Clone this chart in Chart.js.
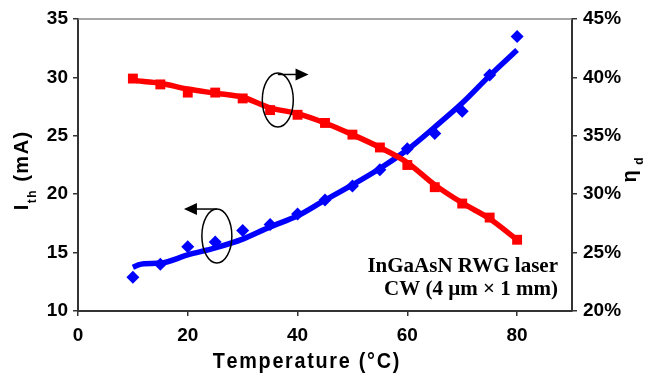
<!DOCTYPE html>
<html>
<head>
<meta charset="utf-8">
<script src="https://cdn.jsdelivr.net/npm/chart.js@4.4.0/dist/chart.umd.min.js"></script>
<style>
  html, body { margin: 0; padding: 0; background: #fff; }
  canvas { display: block; }
</style>
</head>
<body>
<canvas id="chart" width="646" height="376"></canvas>
<script>
// measured points
const temps = [10, 15, 20, 25, 30, 35, 40, 45, 50, 55, 60, 65, 70, 75, 80];
const ithMeasured = [12.9, 14.0, 15.5, 15.9, 16.9, 17.4, 18.3, 19.5, 20.7, 22.1, 23.9, 25.2, 27.1, 30.2, 33.5];
const etaMeasured = [39.9, 39.4, 38.7, 38.7, 38.2, 37.2, 36.8, 36.1, 35.1, 34.0, 32.5, 30.6, 29.2, 28.0, 26.1];

// fitted curves
const fitTemps = [10, 11, 12, 15, 20, 25, 30, 35, 40, 45, 50, 55, 60, 65, 70, 75, 80];
const ithFit = [13.75, 13.95, 14.05, 14.1, 14.8, 15.4, 16.15, 17.2, 18.15, 19.5, 20.8, 22.2, 23.8, 25.75, 27.8, 30.15, 32.35];
const etaFit = [39.8, 39.7, 39.65, 39.5, 39.0, 38.65, 38.3, 37.4, 36.9, 36.1, 35.1, 34.0, 32.7, 30.8, 29.25, 27.9, 26.1];

const xTicks = [0, 20, 40, 60, 80];

const BLUE = '#0000ff';
const RED = '#ff0000';
const AXIS = '#333333';
const SANS = '"Liberation Sans", Arial, sans-serif';
const SERIF = '"Liberation Serif", "Times New Roman", serif';

const pts = (xs, ys) => xs.map((x, i) => ({ x: x, y: ys[i] }));

function ellipseArrow(ctx, xs, ys, c, r, from, to) {
  const cx = xs.getPixelForValue(c.x), cy = ys.getPixelForValue(c.y);
  ctx.beginPath();
  ctx.ellipse(cx, cy, r[0], r[1], 0, 0, Math.PI * 2);
  ctx.stroke();
  const x1 = xs.getPixelForValue(from.x), y1 = ys.getPixelForValue(from.y);
  const x2 = xs.getPixelForValue(to.x), y2 = ys.getPixelForValue(to.y);
  const dir = Math.sign(x2 - x1);
  ctx.beginPath();
  ctx.moveTo(x1, y1);
  ctx.lineTo(x2 - dir * 10, y2);
  ctx.stroke();
  ctx.beginPath();
  ctx.moveTo(x2, y2);
  ctx.lineTo(x2 - dir * 13, y2 - 6);
  ctx.lineTo(x2 - dir * 13, y2 + 6);
  ctx.closePath();
  ctx.fill();
}

// draws text pieces char by char with extra spacing, centred on x
// parts: [text, font, yShift]
function spacedText(ctx, parts, x, y, gap) {
  let w = 0, n = 0;
  parts.forEach(p => {
    ctx.font = p[1];
    for (const ch of p[0]) { w += ctx.measureText(ch).width; n++; }
  });
  w += gap * (n - 1);
  let cx = x - w / 2;
  parts.forEach(p => {
    ctx.font = p[1];
    for (const ch of p[0]) {
      ctx.fillText(ch, cx, y + p[2]);
      cx += ctx.measureText(ch).width + gap;
    }
  });
}

const extras = {
  id: 'extras',
  afterDraw(chart) {
    const ctx = chart.ctx;
    const a = chart.chartArea;
    const xs = chart.scales.x, ys = chart.scales.y;
    ctx.save();

    // top frame line
    ctx.strokeStyle = '#8a8a8a';
    ctx.lineWidth = 1.5;
    ctx.beginPath();
    ctx.moveTo(a.left, a.top);
    ctx.lineTo(a.right, a.top);
    ctx.stroke();

    // ellipses and arrows
    ctx.strokeStyle = '#000';
    ctx.fillStyle = '#000';
    ctx.lineWidth = 1.5;
    ellipseArrow(ctx, xs, ys, { x: 36.4, y: 28.07 }, [15.5, 27], { x: 36.4, y: 30.25 }, { x: 42.0, y: 30.25 });
    ellipseArrow(ctx, xs, ys, { x: 25.3, y: 16.42 }, [15, 27], { x: 25.3, y: 18.73 }, { x: 19.3, y: 18.73 });

    // label text
    ctx.fillStyle = '#000';
    ctx.textAlign = 'right';
    ctx.textBaseline = 'alphabetic';
    ctx.font = 'bold 21px ' + SERIF;
    ctx.fillText('InGaAsN RWG laser', a.right - 14, a.bottom - 39);
    ctx.fillText('CW (4 \u00b5m \u00d7 1 mm)', a.right - 14, a.bottom - 16);

    ctx.textAlign = 'left';

    // x title
    ctx.save();
    ctx.translate(306, 368);
    ctx.scale(0.9, 1);
    spacedText(ctx, [['Temperature (\u00b0C)', 'bold 22px ' + SANS, 0]], 0, 0, 1.9);
    ctx.restore();

    // left title
    ctx.save();
    ctx.translate(28, 171);
    ctx.rotate(-Math.PI / 2);
    spacedText(ctx, [['I', 'bold 20px ' + SANS, 0], ['th', 'bold 12px ' + SANS, 8], [' (mA)', 'bold 20px ' + SANS, 0]], 0, 0, 1.5);
    ctx.restore();

    // right title
    ctx.save();
    ctx.translate(636, 170);
    ctx.rotate(-Math.PI / 2);
    spacedText(ctx, [['\u03b7 ', 'bold 20px ' + SANS, 0], ['d', 'bold 12px ' + SANS, 7]], 0, 0, 0);
    ctx.restore();

    ctx.restore();
  }
};

const tickFont = { family: SANS, size: 19, weight: 'bold' };

new Chart(document.getElementById('chart'), {
  type: 'scatter',
  data: {
    datasets: [
      {
        data: pts(fitTemps, etaFit),
        yAxisID: 'y2',
        showLine: true,
        borderColor: RED,
        borderWidth: 5.5,
        pointRadius: 0,
        cubicInterpolationMode: 'monotone'
      },
      {
        data: pts(temps, etaMeasured),
        yAxisID: 'y2',
        pointStyle: 'rect',
        pointRadius: 7,
        backgroundColor: RED,
        borderColor: RED,
        borderWidth: 0
      },
      {
        data: pts(fitTemps, ithFit),
        yAxisID: 'y',
        showLine: true,
        borderColor: BLUE,
        borderWidth: 5.5,
        pointRadius: 0,
        cubicInterpolationMode: 'monotone'
      },
      {
        data: pts(temps, ithMeasured),
        yAxisID: 'y',
        pointStyle: 'rectRot',
        pointRadius: 6.5,
        backgroundColor: BLUE,
        borderColor: BLUE,
        borderWidth: 0
      }
    ]
  },
  options: {
    responsive: false,
    animation: false,
    layout: { padding: { top: 19, left: 0, right: 0, bottom: 0 } },
    plugins: { legend: { display: false }, tooltip: { enabled: false } },
    scales: {
      x: {
        type: 'linear',
        min: 0,
        max: 90,
        afterFit: s => { s.height = 65; },
        afterBuildTicks: s => { s.ticks = xTicks.map(v => ({ value: v })); },
        ticks: { font: tickFont, color: '#000', padding: 8 },
        grid: { drawOnChartArea: false, drawTicks: true, tickLength: 5, color: AXIS, lineWidth: 1.5 },
        border: { color: AXIS, width: 2 }
      },
      y: {
        position: 'left',
        min: 10,
        max: 35,
        afterFit: s => { s.width = 78; },
        ticks: { stepSize: 5, font: tickFont, color: '#000', padding: 5 },
        grid: { drawOnChartArea: false, drawTicks: true, tickLength: 5, color: AXIS, lineWidth: 1.5 },
        border: { color: AXIS, width: 2 }
      },
      y2: {
        position: 'right',
        min: 20,
        max: 45,
        afterFit: s => { s.width = 74; },
        ticks: { stepSize: 5, font: tickFont, color: '#000', padding: 6, callback: v => v + '%' },
        grid: { drawOnChartArea: false, drawTicks: true, tickLength: 5, color: AXIS, lineWidth: 1.5 },
        border: { color: AXIS, width: 2 }
      }
    }
  },
  plugins: [extras]
});
</script>
</body>
</html>
